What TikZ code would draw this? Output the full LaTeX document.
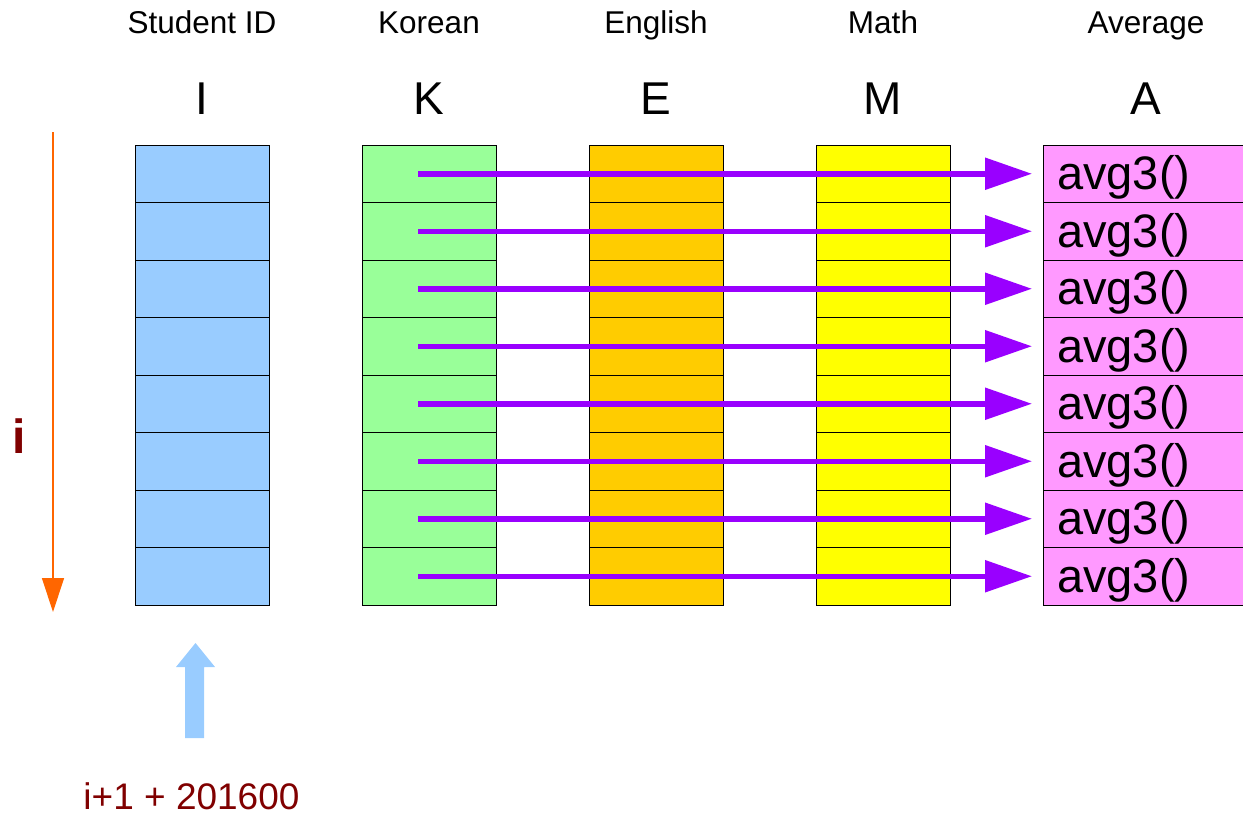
\documentclass[tikz,border=0pt]{standalone}
\usepackage{fontspec}
\setmainfont{Liberation Sans}
\usetikzlibrary{arrows.meta}
\definecolor{cblue}{HTML}{99CCFF}
\definecolor{cgreen}{HTML}{99FF99}
\definecolor{corange}{HTML}{FFCC00}
\definecolor{cyellow}{HTML}{FFFF00}
\definecolor{cpink}{HTML}{FF99FF}
\definecolor{cpurple}{HTML}{9900FF}
\definecolor{cdred}{HTML}{800000}
\definecolor{cor}{HTML}{FF6600}
\begin{document}
\begin{tikzpicture}[x=1pt,y=-1pt,
  cell/.style={draw=black, line width=0.8pt, minimum width=134pt, minimum height=57.5pt, inner sep=0pt, outer sep=0pt},
  headtxt/.style={anchor=base, inner sep=0pt, font=\fontsize{31.5}{36}\selectfont},
  lettertxt/.style={anchor=base, inner sep=0pt, font=\fontsize{46}{52}\selectfont},
  avgtxt/.style={anchor=base west, inner sep=0pt, font=\fontsize{47}{52}\selectfont},
  flow/.style={draw=cpurple, line width=5.5pt, -{Triangle[length=47pt,width=31pt]}},
]
\useasboundingbox (0,0) rectangle (1243,815);
\clip (0,0) rectangle (1243,815);

% headers
\node[headtxt] (hI) at (202,33) {Student ID};
\node[headtxt] (hK) at (429,33) {Korean};
\node[headtxt] (hE) at (656,33) {English};
\node[headtxt] (hM) at (883,33) {Math};
\node[headtxt] (hA) at (1146,33) {Average};
\node[lettertxt] (lI) at (202,114) {I};
\node[lettertxt] (lK) at (429,114) {K};
\node[lettertxt] (lE) at (656,114) {E};
\node[lettertxt] (lM) at (883,114) {M};
\node[lettertxt] (lA) at (1146,114) {A};

% columns
\foreach \n/\x/\c in {i/202/cblue, k/429/cgreen, e/656/corange, m/883/cyellow}{
  \foreach \r in {1,...,8}{
    \node[cell, fill=\c] (\n\r) at (\x,{145+57.5*(\r-0.5)}) {};
  }
}
\foreach \r in {1,...,8}{
  \node[cell, fill=cpink, minimum width=217pt] (a\r) at (1151.5,{145+57.5*(\r-0.5)}) {};
  \node[avgtxt] (t\r) at (1057,{145+57.5*(\r-0.5)+16}) {avg3()};
}
\foreach \r in {1,...,8}{
  \draw[flow] ([xshift=-11pt]k\r.center) -- ([xshift=-11pt]a\r.west);
}

% index arrow
\coordinate (itop) at (53,132);
\coordinate (ibot) at (53,612);
\draw[cor, line width=1.2pt, -{Triangle[length=34pt,width=22pt]}] (itop) -- (ibot);
\node[anchor=base, inner sep=0pt, text=cdred, font=\bfseries\fontsize{48}{56}\selectfont] (ilabel) at (19.5,453) {i};

% block arrow
\fill[cblue] (185,738) -- (204,738) -- (204,667) -- (215,667) -- (195.5,643) -- (176,667) -- (185,667) -- cycle;
\node[anchor=base, inner sep=0pt, text=cdred, font=\fontsize{37}{44}\selectfont] (formula) at (191.5,809) {i+1 + 201600};
\end{tikzpicture}
\end{document}
